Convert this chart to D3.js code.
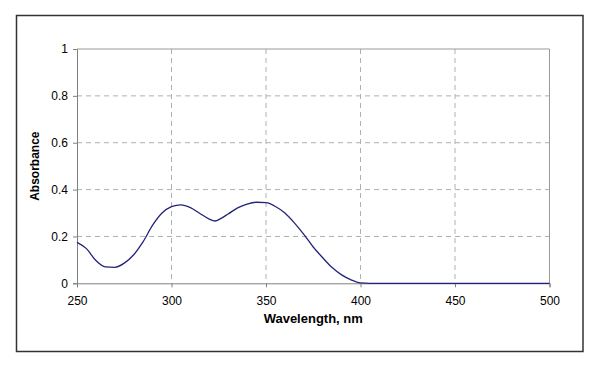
<!DOCTYPE html>
<html>
<head>
<meta charset="utf-8">
<script src="https://cdn.jsdelivr.net/npm/d3@7"></script>
<style>
  body { margin: 0; background: #fff; }
  text { font-family: "Liberation Sans", Arial, sans-serif; fill: #000; }
</style>
</head>
<body>
<div id="chart"></div>
<script>
// wavelength (nm) and absorbance
var wavelength = [250, 255, 260, 265, 270, 275, 280, 285, 290, 295, 300, 305, 310, 315, 320, 323,
  326, 330, 335, 340, 345, 350, 355, 360, 365, 370, 375, 380, 385, 390, 395, 400, 405, 450, 500];
var absorbance = [0.175, 0.148, 0.097, 0.07, 0.068, 0.086, 0.122, 0.178, 0.248, 0.30, 0.327, 0.335,
  0.323, 0.298, 0.274, 0.266, 0.276, 0.296, 0.322, 0.338, 0.346, 0.344, 0.328, 0.30, 0.258, 0.209,
  0.155, 0.109, 0.067, 0.036, 0.015, 0.002, 0, 0, 0];

var xTicks = [250, 300, 350, 400, 450, 500];
var yTicks = [0, 0.2, 0.4, 0.6, 0.8, 1];

var svgWidth = 600;
var svgHeight = 365;

var margin = { top: 49, right: 50.5, bottom: 81.7, left: 77 };
var width = svgWidth - margin.left - margin.right;
var height = svgHeight - margin.top - margin.bottom;

var svg = d3.select("#chart")
  .append("svg")
  .attr("width", svgWidth)
  .attr("height", svgHeight);

// outer frame
svg.append("rect")
  .attr("x", 16.5)
  .attr("y", 15.5)
  .attr("width", 566.5)
  .attr("height", 336)
  .attr("fill", "none")
  .attr("stroke", "#333")
  .attr("stroke-width", 1.5);

var chartGroup = svg.append("g")
  .attr("transform", `translate(${margin.left}, ${margin.top})`);

var xScale = d3.scaleLinear().domain([250, 500]).range([0, width]);
var yScale = d3.scaleLinear().domain([0, 1]).range([height, 0]);

// dashed gridlines
chartGroup.selectAll(".vgrid")
  .data(xTicks.slice(1, -1))
  .enter()
  .append("line")
  .attr("x1", d => xScale(d))
  .attr("x2", d => xScale(d))
  .attr("y1", 0)
  .attr("y2", height)
  .attr("stroke", "#b0b0b0")
  .attr("stroke-dasharray", "5,4");

chartGroup.selectAll(".hgrid")
  .data(yTicks.slice(1, -1))
  .enter()
  .append("line")
  .attr("x1", 0)
  .attr("x2", width)
  .attr("y1", d => yScale(d))
  .attr("y2", d => yScale(d))
  .attr("stroke", "#b0b0b0")
  .attr("stroke-dasharray", "5,4");

// top and right border of plot area
chartGroup.append("path")
  .attr("d", `M0,${yScale(1)}H${xScale(500)}V${yScale(0)}`)
  .attr("fill", "none")
  .attr("stroke", "#999");

// axes
var bottomAxis = d3.axisBottom(xScale).tickValues(xTicks).tickSize(4).tickPadding(9);
var leftAxis = d3.axisLeft(yScale).tickValues(yTicks).tickSize(4).tickPadding(5)
  .tickFormat(d3.format("~g"));

var xAxis = chartGroup.append("g")
  .attr("transform", `translate(0, ${height})`)
  .call(bottomAxis);

var yAxis = chartGroup.append("g")
  .call(leftAxis);

[xAxis, yAxis].forEach(function(ax) {
  ax.select(".domain").attr("stroke", "#808080");
  ax.selectAll(".tick line").attr("stroke", "#808080");
  ax.selectAll(".tick text")
    .attr("font-size", "12px")
    .attr("font-family", "Liberation Sans, Arial, sans-serif")
    .attr("fill", "#000");
});

// the spectrum
var line = d3.line()
  .x((d, i) => xScale(wavelength[i]))
  .y(d => yScale(d))
  .curve(d3.curveMonotoneX);

chartGroup.append("path")
  .datum(absorbance)
  .attr("d", line)
  .attr("fill", "none")
  .attr("stroke", "#23237a")
  .attr("stroke-width", 1.3)
  .attr("stroke-linejoin", "round");

// axis titles
chartGroup.append("text")
  .attr("x", width / 2)
  .attr("y", height + 40)
  .attr("text-anchor", "middle")
  .attr("font-size", "13px")
  .attr("font-weight", "bold")
  .text("Wavelength, nm");

chartGroup.append("text")
  .attr("transform", `translate(-38, ${height / 2}) rotate(-90)`)
  .attr("text-anchor", "middle")
  .attr("font-size", "12px")
  .attr("font-weight", "bold")
  .text("Absorbance");
</script>
</body>
</html>
